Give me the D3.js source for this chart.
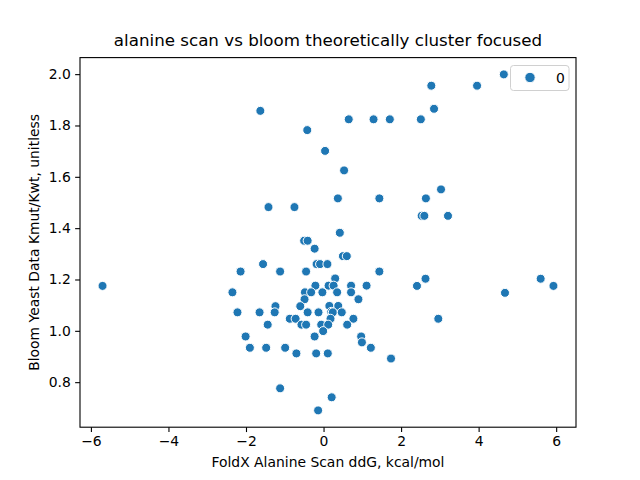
<!DOCTYPE html>
<html><head><meta charset="utf-8">
<script src="https://cdn.jsdelivr.net/npm/d3@7"></script>
<style>body{margin:0;background:#fff}svg{display:block}text{font-family:"DejaVu Sans",sans-serif;fill:#000}</style>
</head><body>
<svg id="c" width="640" height="480"></svg>
<script>
const xVals = [-5.70,-1.63,-0.42,0.04,-1.42,-0.75,-0.50,-0.41,-0.23,4.65,2.78,3.96,2.85,0.65,1.29,1.71,2.51,0.53,0.37,1.44,2.64,3.03,2.53,2.60,3.21,0.42,0.50,0.60,-1.56,-0.18,-0.09,0.10,-2.14,-1.12,-0.45,1.44,0.30,-2.35,-0.21,0.13,0.26,0.71,1.11,-0.48,-0.32,-0.03,0.35,0.71,0.90,-0.49,-0.60,-1.24,0.15,0.38,-2.22,-1.65,-1.26,-0.41,-0.13,0.20,0.24,0.47,-0.87,-0.72,0.18,0.77,-1.44,-0.57,-0.45,-0.06,0.12,0.61,-0.01,-2.01,-0.23,0.97,0.99,-1.90,-1.48,-0.99,1.22,-0.70,-0.19,0.11,1.74,-1.12,0.21,-0.14,2.41,2.63,2.96,4.68,5.60,5.93];
const yVals = [1.175,1.857,1.782,1.701,1.482,1.482,1.351,1.351,1.320,1.999,1.955,1.955,1.865,1.824,1.824,1.824,1.824,1.625,1.516,1.516,1.516,1.551,1.448,1.448,1.448,1.382,1.291,1.291,1.260,1.260,1.260,1.260,1.231,1.231,1.231,1.231,1.204,1.150,1.176,1.176,1.176,1.176,1.176,1.150,1.150,1.150,1.150,1.150,1.123,1.123,1.096,1.096,1.097,1.097,1.072,1.072,1.072,1.072,1.072,1.074,1.072,1.072,1.047,1.047,1.047,1.047,1.024,1.024,1.024,1.024,1.024,1.024,0.999,0.978,0.978,0.978,0.955,0.934,0.934,0.934,0.934,0.912,0.912,0.912,0.892,0.776,0.741,0.690,1.175,1.203,1.047,1.148,1.203,1.175];
const xTicks = [-6,-4,-2,0,2,4,6];
const yTicks = [0.8,1.0,1.2,1.4,1.6,1.8,2.0];
const legendLabels = ["0"];
const titleText = "alanine scan vs bloom theoretically cluster focused";
const xLabel = "FoldX Alanine Scan ddG, kcal/mol";
const yLabel = "Bloom Yeast Data Kmut/Kwt, unitless";

const L=80,R=576,T=57.6,B=427.2;
const svg=d3.select("#c");
const pad=(e)=>{const r=e[1]-e[0];return [e[0]-0.05*r,e[1]+0.05*r];};
const x=d3.scaleLinear().domain(pad(d3.extent(xVals))).range([L,R]);
const y=d3.scaleLinear().domain(pad(d3.extent(yVals))).range([B,T]);
const minus=s=>s.replace("-","\u2212");

const xa=svg.append("g").attr("transform",`translate(0,${B})`)
  .call(d3.axisBottom(x).tickValues(xTicks).tickSize(4.86).tickPadding(4.4).tickFormat(d=>minus(d3.format("d")(d))));
const ya=svg.append("g").attr("transform",`translate(${L},0)`)
  .call(d3.axisLeft(y).tickValues(yTicks).tickSize(4.86).tickPadding(4.4).tickFormat(d3.format(".1f")));
[xa,ya].forEach(a=>{a.select(".domain").remove();a.selectAll("line").attr("stroke","#000").attr("stroke-width",1.1);
  a.selectAll("text").attr("font-size","13.9px").attr("font-family","DejaVu Sans").attr("fill","#000");});

const pts=xVals.map((v,i)=>({x:v,y:yVals[i]}));
svg.append("g").selectAll("circle").data(pts).join("circle")
  .attr("cx",d=>x(d.x)).attr("cy",d=>y(d.y)).attr("r",4.5)
  .attr("fill","#1f77b4").attr("stroke","#fff").attr("stroke-width",1.0);

svg.append("rect").attr("x",L).attr("y",T).attr("width",R-L).attr("height",B-T)
  .attr("fill","none").attr("stroke","#000").attr("stroke-width",1.1);

svg.append("text").attr("x",(L+R)/2).attr("y",46).attr("text-anchor","middle").attr("font-size","16.7px").text(titleText);
svg.append("text").attr("x",(L+R)/2).attr("y",466.5).attr("text-anchor","middle").attr("font-size","13.9px").text(xLabel);
svg.append("text").attr("transform",`translate(39,${(T+B)/2}) rotate(-90)`).attr("text-anchor","middle").attr("font-size","13.9px").text(yLabel);

const lg=svg.append("g");
lg.append("rect").attr("x",510.5).attr("y",65.5).attr("width",58.5).attr("height",25).attr("rx",3)
  .attr("fill","#fff").attr("fill-opacity",0.8).attr("stroke","#d0d0d0").attr("stroke-width",1);
legendLabels.forEach((t,i)=>{
  lg.append("circle").attr("cx",530).attr("cy",77.5+i*20).attr("r",5.2).attr("fill","#1f77b4").attr("stroke","#fff").attr("stroke-width",1);
  lg.append("text").attr("x",556).attr("y",82.5+i*20).attr("font-size","13.9px").text(t);
});
</script>
</body></html>
